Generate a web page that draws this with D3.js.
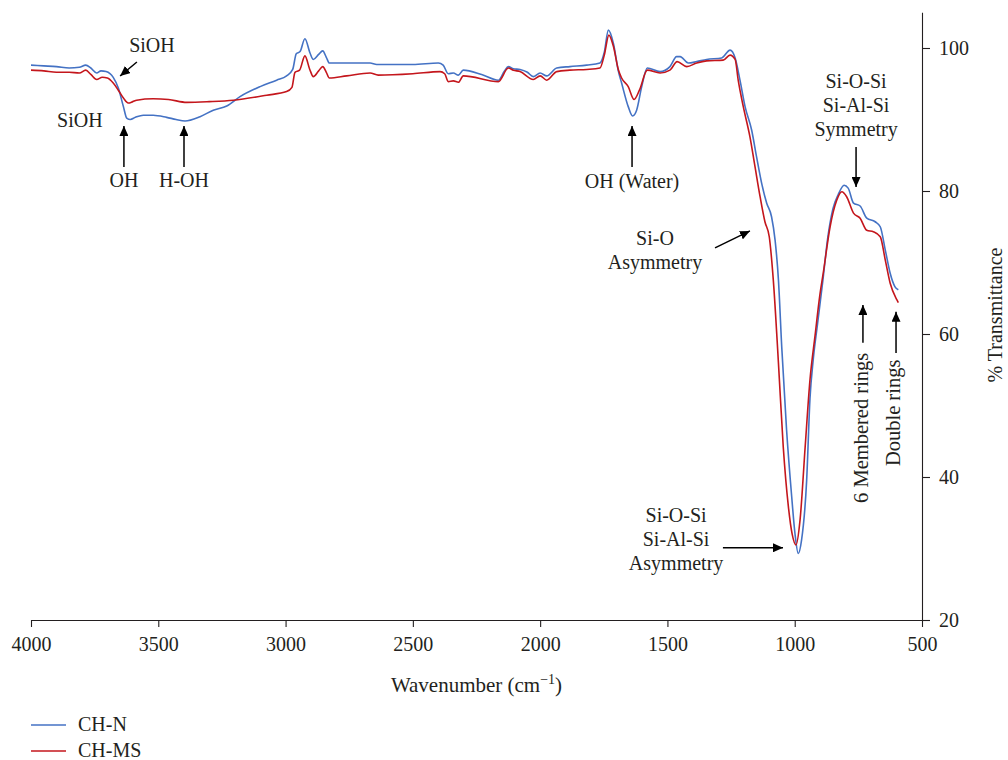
<!DOCTYPE html>
<html>
<head>
<meta charset="utf-8">
<script src="https://cdn.jsdelivr.net/npm/d3@7"></script>
<style>
body { margin: 0; background: #fff; }
text { font-family: "Liberation Serif", "Times New Roman", serif; fill: #231f20; }
</style>
</head>
<body>
<div id="chart"></div>
<script>

// CH-N spectrum (wavenumber, % transmittance)
var wnN = [4000,3950,3900,3850,3810,3785,3765,3742,3725,3705,3677,3657,3637,3624,3610,3590,3559,3520,3467,3430,3395,3336,3284,3231,3179,3100,3035,2996,2972,2958,2943,2924,2904,2891,2870,2854,2840,2828,2720,2668,2642,2500,2400,2381,2361,2341,2321,2302,2230,2164,2140,2125,2105,2079,2050,2027,2000,1974,1935,1883,1817,1765,1748,1732,1712,1693,1680,1654,1637,1621,1601,1579,1529,1490,1464,1450,1418,1385,1346,1287,1254,1234,1215,1195,1169,1150,1130,1110,1091,1077,1064,1051,1032,1012,999,986,973,953,940,927,910,889,870,850,829,806,790,769,743,717,684,664,644,625,606,593];
var tN = [97.6,97.5,97.4,97.2,97.3,97.6,97.2,96.5,96.8,96.7,95.9,94.4,91.8,90.2,90.0,90.3,90.6,90.6,90.3,90.0,89.8,90.4,91.3,91.9,93.2,94.6,95.5,96.1,97.0,99.2,99.5,101.3,99.3,98.4,99.1,99.6,98.7,97.9,97.9,97.9,97.7,97.7,97.9,97.6,96.4,96.5,96.2,96.9,96.3,95.5,96.8,97.4,97.1,97.0,96.6,96.0,96.5,96.1,97.2,97.4,97.6,97.9,99.4,102.5,100.6,96.8,95.1,91.8,90.5,91.3,94.6,97.2,96.7,97.4,98.8,98.8,97.9,98.1,98.4,98.6,99.7,98.6,95.5,91.8,88.5,84.8,81.1,78.3,76.4,73.1,67.6,58.2,46.6,37.3,32.1,29.3,31.2,39.6,51.0,56.5,61.5,67.6,73.5,77.5,79.5,80.8,80.4,78.3,77.9,76.2,75.7,75.0,71.7,68.5,66.6,66.2];

// CH-MS spectrum
var wnMS = [4000,3950,3900,3850,3810,3785,3765,3742,3720,3700,3677,3657,3637,3618,3600,3585,3520,3460,3388,3300,3205,3074,2996,2975,2963,2945,2924,2905,2891,2870,2854,2840,2828,2760,2668,2636,2500,2393,2375,2361,2341,2321,2302,2164,2125,2105,2079,2027,2000,1974,1935,1883,1817,1765,1748,1730,1712,1693,1680,1654,1631,1610,1579,1529,1490,1462,1424,1385,1346,1281,1254,1234,1222,1202,1176,1156,1136,1117,1100,1084,1064,1045,1025,1010,995,979,959,940,920,901,888,861,835,815,796,769,743,717,691,664,644,625,599,593];
var tMS = [96.9,96.8,96.6,96.6,96.5,96.9,96.3,95.6,95.9,95.8,95.1,94.1,93.0,92.3,92.5,92.7,92.9,92.8,92.4,92.5,92.7,93.4,93.9,94.5,96.6,96.9,98.9,97.0,96.0,96.8,97.4,96.6,95.8,96.1,96.5,96.2,96.4,96.7,96.4,95.3,95.4,95.2,96.1,95.3,97.2,96.9,96.7,95.6,96.1,95.5,96.7,96.9,97.0,97.2,99.0,101.8,100.2,97.0,95.8,94.6,92.8,94.1,96.9,96.5,96.9,98.1,97.4,97.9,98.2,98.3,99.0,98.4,95.5,91.8,87.6,83.4,79.2,75.7,73.6,67.5,56.0,44.2,35.9,32.0,30.5,34.0,44.2,53.6,59.8,65.5,68.5,75.0,78.7,79.9,79.2,76.9,76.2,74.5,74.3,73.6,70.3,67.1,64.8,64.4];

var seriesNames = ["CH-N", "CH-MS"];
var seriesColors = ["#4472c4", "#c4161c"];

var xTicks = [4000,3500,3000,2500,2000,1500,1000,500];
var yTicks = [20,40,60,80,100];

// annotations, in data units (wavenumber, %T)
var textNotes = [
  {w: 3525, t: 99.44, lines: ["SiOH"]},
  {w: 3808, t: 88.96, lines: ["SiOH"]},
  {w: 3635, t: 80.57, lines: ["OH"]},
  {w: 3399, t: 80.57, lines: ["H-OH"]},
  {w: 1639, t: 80.43, lines: ["OH (Water)"]},
  {w: 1549, t: 72.46, lines: ["Si-O", "Asymmetry"]},
  {w: 759, t: 94.41, lines: ["Si-O-Si", "Si-Al-Si", "Symmetry"]},
  {w: 1466, t: 33.73, lines: ["Si-O-Si", "Si-Al-Si", "Asymmetry"]}
];
var rotNotes = [
  {w: 712, t: 46.88, label: "6 Membered rings"},
  {w: 586, t: 48.97, label: "Double rings"}
];
var arrows = [
  {w0: 3584, t0: 98.04, w1: 3650, t1: 96.09},
  {w0: 3635, t0: 83.37, w1: 3635, t1: 89.10},
  {w0: 3399, t0: 83.37, w1: 3399, t1: 89.10},
  {w0: 1639, t0: 83.37, w1: 1639, t1: 89.10},
  {w0: 1313, t0: 72.04, w1: 1176, t1: 74.42},
  {w0: 759, t0: 86.16, w1: 759, t1: 80.57},
  {w0: 1282, t0: 30.10, w1: 1046, t1: 30.10},
  {w0: 732, t0: 58.76, w1: 732, t1: 64.07},
  {w0: 602, t0: 57.36, w1: 602, t1: 63.10}
];

var width = 1008, height = 760;

var svg = d3.select("#chart")
  .append("svg")
  .attr("width", width)
  .attr("height", height);

var x = d3.scaleLinear().domain([4000, 500]).range([31, 922]);
var y = d3.scaleLinear().domain([20, 105]).range([620, 12.25]);

svg.append("defs").append("marker")
  .attr("id", "head")
  .attr("markerUnits", "userSpaceOnUse")
  .attr("viewBox", "0 0 10 9")
  .attr("markerWidth", 10)
  .attr("markerHeight", 9)
  .attr("refX", 10)
  .attr("refY", 4.5)
  .attr("orient", "auto")
  .append("path")
  .attr("d", "M0,0L10,4.5L0,9Z")
  .attr("fill", "#000");

// axes
var xAxis = svg.append("g")
  .attr("transform", "translate(0," + y(20) + ")")
  .call(d3.axisBottom(x).tickValues(xTicks).tickFormat(d3.format("d")).tickSize(7).tickSizeOuter(0).tickPadding(10));

var yAxis = svg.append("g")
  .attr("transform", "translate(" + x(500) + ",0)")
  .call(d3.axisRight(y).tickValues(yTicks).tickFormat(d3.format("d")).tickSize(8).tickSizeOuter(0).tickPadding(9));

svg.selectAll(".domain, .tick line").attr("stroke", "#231f20").attr("stroke-width", 1.1);
svg.selectAll(".tick text")
  .style("font-family", "Liberation Serif, serif")
  .style("font-size", "20px")
  .attr("fill", "#231f20");

// x title with superscript
var xt = svg.append("text")
  .attr("x", (x(4000) + x(500)) / 2)
  .attr("y", 692)
  .attr("text-anchor", "middle")
  .style("font-size", "21px");
xt.append("tspan").text("Wavenumber (cm");
xt.append("tspan").text("\u22121").attr("dy", -8).style("font-size", "14px");
xt.append("tspan").text(")").attr("dy", 8);

svg.append("text")
  .attr("transform", "translate(1002," + 315 + ")rotate(-90)")
  .attr("text-anchor", "middle")
  .style("font-size", "20px")
  .text("% Transmittance");

// spectra
var line = d3.line()
  .x(function (d) { return x(d[0]); })
  .y(function (d) { return y(d[1]); })
  .curve(d3.curveMonotoneX);

var series = [d3.zip(wnN, tN), d3.zip(wnMS, tMS)];

svg.selectAll(".spec")
  .data(series)
  .enter()
  .append("path")
  .attr("class", "spec")
  .attr("d", line)
  .attr("fill", "none")
  .attr("stroke", function (d, i) { return seriesColors[i]; })
  .attr("stroke-width", 1.6)
  .attr("stroke-linejoin", "round");

// annotations
svg.selectAll(".arrow")
  .data(arrows)
  .enter()
  .append("line")
  .attr("class", "arrow")
  .attr("x1", function (d) { return x(d.w0); })
  .attr("y1", function (d) { return y(d.t0); })
  .attr("x2", function (d) { return x(d.w1); })
  .attr("y2", function (d) { return y(d.t1); })
  .attr("stroke", "#000")
  .attr("stroke-width", 1.5)
  .attr("marker-end", "url(#head)");

textNotes.forEach(function (n) {
  var t = svg.append("text")
    .attr("text-anchor", "middle")
    .style("font-size", "20px");
  n.lines.forEach(function (s, i) {
    t.append("tspan")
      .attr("x", x(n.w))
      .attr("y", y(n.t) + i * 24)
      .text(s);
  });
});

rotNotes.forEach(function (n) {
  svg.append("text")
    .attr("transform", "translate(" + x(n.w) + "," + y(n.t) + ")rotate(-90)")
    .attr("text-anchor", "middle")
    .style("font-size", "20.5px")
    .text(n.label);
});

// legend
var legend = svg.selectAll(".leg")
  .data(seriesNames)
  .enter()
  .append("g")
  .attr("class", "leg")
  .attr("transform", function (d, i) { return "translate(31," + (725 + i * 26) + ")"; });

legend.append("line")
  .attr("x1", 0).attr("x2", 35)
  .attr("stroke", function (d, i) { return seriesColors[i]; })
  .attr("stroke-width", 1.5);

legend.append("text")
  .attr("x", 47)
  .attr("y", 6)
  .style("font-size", "20px")
  .text(function (d) { return d; });

</script>
</body>
</html>
